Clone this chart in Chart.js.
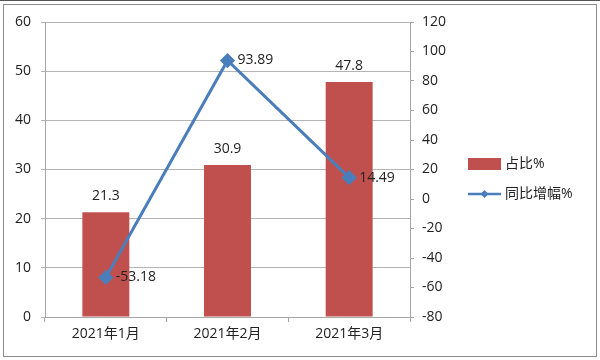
<!DOCTYPE html>
<html><head><meta charset="utf-8">
<script src="https://cdn.jsdelivr.net/npm/chart.js@4/dist/chart.umd.min.js"></script>
<style>
html,body{margin:0;padding:0;background:#fff;}
#wrap{position:absolute;left:0;top:0;width:600px;height:360px;border-top:1px solid #555;box-sizing:border-box;}
#frame{position:absolute;left:3px;top:3px;width:592px;height:351px;border:1px solid #8c8c8c;pointer-events:none;}
canvas{position:absolute;left:0;top:0;}
</style></head>
<body>
<div id="wrap"><canvas id="c" width="600" height="360"></canvas><div id="frame"></div></div>
<script>
const categories = ['2021年1月','2021年2月','2021年3月'];
const shareValues = [21.3, 30.9, 47.8];
const growthValues = [-53.18, 93.89, 14.49];
const seriesNames = ['占比%','同比增幅%'];
const leftTicks = [0,10,20,30,40,50,60];
const rightTicks = [-80,-60,-40,-20,0,20,40,60,80,100,120];

const FONT = '"Open Sans","Noto Sans CJK SC",sans-serif';
const barColor = '#C0504D';
const lineColor = '#4A7EBB';
const gridColor = '#b4b4b4';
const axisColor = '#a6a6a6';

const labelPlugin = {
  id:'labels',
  afterDatasetsDraw(chart){
    const ctx = chart.ctx;
    ctx.save();
    ctx.font = '14px ' + FONT;
    ctx.fillStyle = '#222';
    const barMeta = chart.getDatasetMeta(0);
    barMeta.data.forEach((el,i)=>{
      ctx.textAlign='center'; ctx.textBaseline='bottom';
      ctx.fillText(String(shareValues[i]), el.x, el.y - 9);
    });
    const lineMeta = chart.getDatasetMeta(1);
    lineMeta.data.forEach((el,i)=>{
      ctx.textAlign='left'; ctx.textBaseline='middle';
      ctx.fillText(growthValues[i].toFixed(2), el.x + 10, el.y);
    });
    // legend
    const lx = 468, ly1 = 163, ly2 = 193;
    ctx.fillStyle = barColor;
    ctx.fillRect(lx, ly1-6, 33, 12);
    ctx.strokeStyle = lineColor; ctx.lineWidth = 2.5;
    ctx.beginPath(); ctx.moveTo(lx, ly2); ctx.lineTo(lx+33, ly2); ctx.stroke();
    ctx.fillStyle = lineColor;
    ctx.beginPath(); ctx.moveTo(lx+16.5, ly2-4); ctx.lineTo(lx+20.5, ly2); ctx.lineTo(lx+16.5, ly2+4); ctx.lineTo(lx+12.5, ly2); ctx.closePath(); ctx.fill();
    ctx.fillStyle = '#222';
    ctx.textAlign='left'; ctx.textBaseline='middle';
    ctx.font = '14px ' + FONT;
    ctx.fillText(seriesNames[0], lx+37, ly1);
    ctx.fillText(seriesNames[1], lx+37, ly2);
    ctx.restore();
  }
};

new Chart(document.getElementById('c'), {
  data:{
    labels: categories,
    datasets:[
      {type:'bar', label:seriesNames[0], data:shareValues, backgroundColor:barColor, yAxisID:'y', categoryPercentage:1, barPercentage:0.386, order:2},
      {type:'line', label:seriesNames[1], data:growthValues, borderColor:lineColor, backgroundColor:lineColor, borderWidth:3, yAxisID:'y1', pointStyle:'rectRot', pointRadius:5.5, pointHoverRadius:5.5, tension:0, order:1}
    ]
  },
  options:{
    responsive:false, animation:false,
    layout:{padding:{top:21,left:0,right:0,bottom:0}},
    plugins:{legend:{display:false}, tooltip:{enabled:false}},
    scales:{
      x:{
        grid:{display:true, drawOnChartArea:false, drawTicks:true, tickLength:5, color:axisColor, offset:true},
        border:{color:axisColor},
        ticks:{color:'#222', font:{size:14, family:FONT}, padding:4},
        afterFit(s){ s.height = 44; }
      },
      y:{
        position:'left', min:0, max:60,
        afterBuildTicks(s){ s.ticks = leftTicks.map(v=>({value:v})); },
        grid:{color:gridColor, tickLength:4},
        border:{color:axisColor},
        ticks:{color:'#222', font:{size:14, family:FONT}, padding:10},
        afterFit(s){ s.width = 45; }
      },
      y1:{
        position:'right', min:-80, max:120,
        afterBuildTicks(s){ s.ticks = rightTicks.map(v=>({value:v})); },
        grid:{drawOnChartArea:false, color:axisColor, tickLength:4},
        border:{color:axisColor},
        ticks:{color:'#222', font:{size:14, family:FONT}, padding:8},
        afterFit(s){ s.width = 190; }
      }
    }
  },
  plugins:[labelPlugin]
});
</script>
</body></html>
